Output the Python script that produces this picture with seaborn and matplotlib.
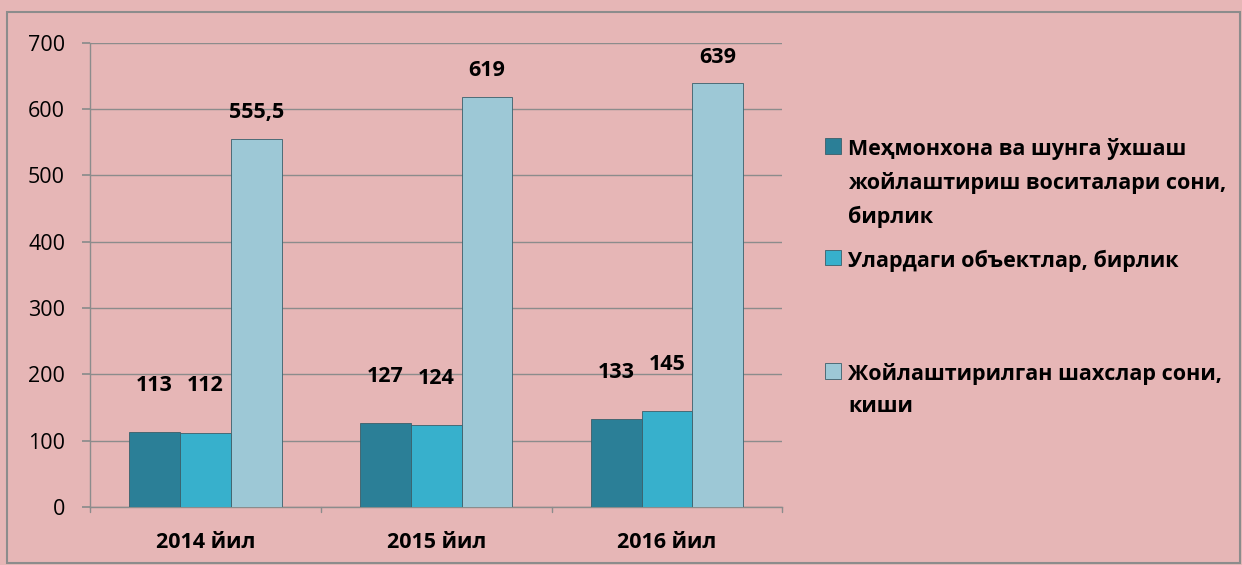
import matplotlib
matplotlib.use("Agg")
import matplotlib.pyplot as plt
import seaborn as sns
import pandas as pd
from matplotlib.patches import Rectangle

categories = ["2014 йил", "2015 йил", "2016 йил"]
series_names = [
    "Меҳмонхона ва шунга ўхшаш\nжойлаштириш воситалари сони,\nбирлик",
    "Улардаги объектлар, бирлик",
    "Жойлаштирилган шахслар сони,\nкиши",
]
hotels = [113, 127, 133]
objects_ = [112, 124, 145]
persons = [555.5, 619, 639]
yticks = [0, 100, 200, 300, 400, 500, 600, 700]

colors = ["#2b7f97", "#37b0cc", "#9dc8d6"]
bg = "#e6b6b6"

rows = []
for name, vals in zip(series_names, [hotels, objects_, persons]):
    for c, v in zip(categories, vals):
        rows.append({"cat": c, "series": name, "value": v})
df = pd.DataFrame(rows)

sns.set_theme(style="white")
plt.rcParams["font.family"] = ["Open Sans", "DejaVu Sans"]
plt.rcParams["text.color"] = "black"
plt.rcParams["xtick.color"] = "black"
plt.rcParams["ytick.color"] = "black"

fig = plt.figure(figsize=(12.42, 5.65), dpi=100)
fig.patch.set_facecolor(bg)
ax = fig.add_axes([0.0725, 0.103, 0.5575, 0.821])
ax.set_facecolor(bg)

sns.barplot(data=df, x="cat", y="value", hue="series", palette=colors,
            ax=ax, width=0.66, saturation=1, edgecolor="#3a5f6a", linewidth=0.6,
            legend=True, zorder=3)

ax.set_ylim(0, 700)
ax.set_yticks(yticks)
ax.set_xlim(-0.5, 2.5)
ax.grid(axis="y", color="#8c8c8c", linewidth=1.0, zorder=0)
ax.set_axisbelow(True)
for s in ["top", "right"]:
    ax.spines[s].set_visible(False)
for s in ["left", "bottom"]:
    ax.spines[s].set_color("#8c8c8c")
    ax.spines[s].set_linewidth(1.0)
ax.tick_params(axis="y", length=6, color="#8c8c8c", labelsize=15.5, pad=12,
               left=True, labelcolor="black")
ax.tick_params(axis="x", length=0, labelsize=15.5, pad=18, labelcolor="black")
for lbl in ax.get_xticklabels():
    lbl.set_fontweight("bold")
ax.set_xlabel("")
ax.set_ylabel("")
for xb in [-0.5, 0.5, 1.5, 2.5]:
    ax.plot([xb, xb], [0, -8], color="#8c8c8c", lw=1.0, clip_on=False)

def fmt(v):
    if float(v).is_integer():
        return str(int(v))
    return str(v).replace(".", ",")

pads = [26, 26, 11]
for cont, pad in zip(ax.containers, pads):
    labels = [fmt(b.get_height()) for b in cont]
    ax.bar_label(cont, labels=labels, padding=pad, fontsize=15.5,
                 fontweight="bold", color="black")

handles, labels = ax.get_legend_handles_labels()
ax.get_legend().remove()
tops = [0.7555, 0.558, 0.357]
for h, l, t in zip(handles, labels, tops):
    leg = fig.legend([h], [l], loc="upper left", bbox_to_anchor=(0.664, t),
                     frameon=False, prop={"weight": "bold", "size": 15.5},
                     handlelength=0.75, handleheight=0.75, handletextpad=0.33,
                     borderpad=0, borderaxespad=0)
    for txt in leg.get_texts():
        txt.set_linespacing(1.68)
        txt.set_color("black")
    for col in leg._legend_handle_box.get_children():
        for item in col.get_children():
            item.align = "top"

fig.patches.append(Rectangle((7 / 1242, 2 / 565), 1 - 9 / 1242, 1 - 14 / 565,
                             transform=fig.transFigure, fill=False,
                             edgecolor="#8c8c8c", linewidth=1.5))

fig.savefig("out.png", dpi=100, facecolor=bg)
